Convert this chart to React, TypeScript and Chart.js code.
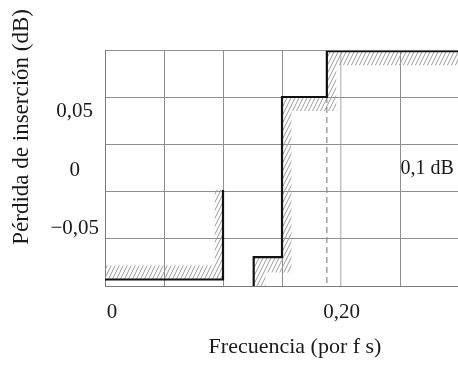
import React, { useEffect, useRef } from 'react';
import { Chart, registerables } from 'chart.js';

Chart.register(...registerables);

const FONT = 'Liberation Serif';
const TEXT_COLOR = '#1a1a1a';

// ---- texts ----
const yAxisTitle = 'Pérdida de inserción (dB)';
const xAxisTitle = 'Frecuencia (por f s)';
const noteText = '0,1 dB';

// ---- tick labels ----
const xTickValues = [0, 0.2];
const xTickLabels = ['0', '0,20'];
const yTickValues = [-0.05, 0, 0.05];
const yTickLabels = ['−0,05', '0', '0,05'];

// ---- mask lines (frequency in f/fs, loss in dB) ----
const lowerMaskFreq = [0, 0.1, 0.1];
const lowerMaskLoss = [-0.093, -0.093, -0.017];
const upperMaskFreq = [0.126, 0.126, 0.15, 0.15, 0.188, 0.188, 0.322];
const upperMaskLoss = [-0.0985, -0.074, -0.074, 0.062, 0.062, 0.101, 0.101];

// ---- hatched tolerance zones ----
const lowerHatchFreq = [0, 0.1, 0.1, 0.093, 0.093, 0];
const lowerHatchLoss = [-0.093, -0.093, -0.017, -0.017, -0.081, -0.081];
const upperHatchFreq = [0.126, 0.126, 0.15, 0.15, 0.188, 0.188, 0.322, 0.322, 0.196, 0.196, 0.158, 0.158, 0.136, 0.136];
const upperHatchLoss = [-0.0985, -0.074, -0.074, 0.062, 0.062, 0.101, 0.101, 0.089, 0.089, 0.05, 0.05, -0.087, -0.087, -0.0985];

// ---- dashed marker ----
const markerFreq = [0.188, 0.188];
const markerLoss = [0.062, -0.0985];

// ---- annotation position ----
const noteFreq = 0.25;
const noteLoss = 0;

const pts = (xs: number[], ys: number[]) => xs.map((x, i) => ({ x, y: ys[i] }));

const notePlugin = {
  id: 'note',
  afterDatasetsDraw(chart: any) {
    const { ctx, scales } = chart;
    const px = scales.x.getPixelForValue(noteFreq);
    const py = scales.y.getPixelForValue(noteLoss);
    ctx.save();
    ctx.font = `20px "${FONT}"`;
    ctx.fillStyle = TEXT_COLOR;
    ctx.textAlign = 'left';
    ctx.textBaseline = 'middle';
    ctx.fillText(noteText, px + 0.5, py - 1.5);
    ctx.restore();
  },
};

export default function App() {
  const ref = useRef<HTMLCanvasElement>(null);

  useEffect(() => {
    document.body.style.margin = '0';
    document.body.style.overflow = 'hidden';
    const canvas = ref.current!;

    // diagonal hatch pattern
    const pc = document.createElement('canvas');
    pc.width = 4;
    pc.height = 8;
    const p = pc.getContext('2d')!;
    p.strokeStyle = '#9c9c9c';
    p.lineWidth = 1;
    p.beginPath();
    for (const dx of [-4, 0, 4]) {
      p.moveTo(dx, 8);
      p.lineTo(dx + 4, 0);
    }
    p.stroke();
    const pattern = canvas.getContext('2d')!.createPattern(pc, 'repeat')!;

    const lineBase = {
      pointRadius: 0,
      tension: 0,
      fill: false,
      borderCapStyle: 'butt',
      borderJoinStyle: 'miter',
    };
    const tickFont = { family: FONT, size: 21 };

    const chart = new Chart(canvas, {
      type: 'line',
      data: {
        datasets: [
          { ...lineBase, data: pts(lowerMaskFreq, lowerMaskLoss), borderColor: '#111', borderWidth: 2.2 },
          { ...lineBase, data: pts(upperMaskFreq, upperMaskLoss), borderColor: '#111', borderWidth: 2.2 },
          { ...lineBase, data: pts(markerFreq, markerLoss), borderColor: '#8a8a8a', borderWidth: 1.2, borderDash: [6, 4] },
          { ...lineBase, data: pts(lowerHatchFreq, lowerHatchLoss), borderColor: 'rgba(0,0,0,0)', borderWidth: 0, backgroundColor: pattern, fill: 'shape' },
          { ...lineBase, data: pts(upperHatchFreq, upperHatchLoss), borderColor: 'rgba(0,0,0,0)', borderWidth: 0, backgroundColor: pattern, fill: 'shape' },
        ] as any,
      },
      options: {
        responsive: false,
        maintainAspectRatio: false,
        animation: false,
        layout: { padding: { top: 9, left: 0, right: 0, bottom: 0 } },
        plugins: {
          legend: { display: false },
          tooltip: { enabled: false },
          title: {
            display: true,
            position: 'left',
            align: 'end',
            text: yAxisTitle,
            color: TEXT_COLOR,
            font: { family: FONT, size: 23, weight: 'normal' },
            padding: { top: 8.2, bottom: 0 },
          },
        },
        scales: {
          x: {
            type: 'linear',
            position: 'top',
            min: 0,
            max: 0.322,
            ticks: { display: false, stepSize: 0.05, includeBounds: false },
            grid: {
              drawTicks: false,
              color: (c: any) => (c.index === 4 ? '#c4c4c4' : '#8f8f8f'),
              lineWidth: (c: any) => (c.index === 4 ? 1.5 : 1),
            },
            border: { display: false },
            afterFit: (s: any) => { s.height = 41.7; },
          },
          xl: {
            type: 'linear',
            position: 'bottom',
            min: -0.0061,
            max: 0.3248,
            afterBuildTicks: (s: any) => { s.ticks = xTickValues.map((v) => ({ value: v })); },
            ticks: {
              font: tickFont,
              color: TEXT_COLOR,
              padding: 13.4,
              maxRotation: 0,
              autoSkip: false,
              callback: (v: any) => {
                const i = xTickValues.findIndex((t) => Math.abs(t - v) < 1e-6);
                return i >= 0 ? xTickLabels[i] : '';
              },
            },
            grid: { display: false, drawTicks: false },
            border: { display: true, color: '#7a7a7a', width: 1 },
            title: {
              display: true,
              text: xAxisTitle,
              color: TEXT_COLOR,
              font: { family: FONT, size: 22 },
              padding: { top: 0, bottom: 6.8 },
            },
            afterFit: (s: any) => { s.height = 81; },
          },
          y: {
            type: 'linear',
            position: 'left',
            min: -0.0985,
            max: 0.1013,
            afterBuildTicks: (s: any) => { s.ticks = yTickValues.map((v) => ({ value: v })); },
            ticks: {
              font: tickFont,
              color: TEXT_COLOR,
              padding: 6,
              crossAlign: 'center',
              autoSkip: false,
              callback: (v: any) => {
                const i = yTickValues.findIndex((t) => Math.abs(t - v) < 1e-6);
                return i >= 0 ? yTickLabels[i] : '';
              },
            },
            grid: { display: false, drawTicks: false },
            border: { display: true, color: '#7a7a7a', width: 1 },
            afterFit: (s: any) => { s.width = 69.2; },
          },
          yg: {
            type: 'linear',
            position: 'right',
            min: 0,
            max: 5,
            ticks: { display: false, stepSize: 1 },
            grid: { drawTicks: false, color: '#8f8f8f', lineWidth: 1 },
            border: { display: false },
            afterFit: (s: any) => { s.width = 0; },
          },
        },
      } as any,
      plugins: [notePlugin],
    });

    return () => chart.destroy();
  }, []);

  return (
    <div style={{ width: 458, height: 367, overflow: 'hidden', background: '#fff' }}>
      <canvas ref={ref} width={485} height={367} style={{ display: 'block', width: 485, height: 367 }} />
    </div>
  );
}
